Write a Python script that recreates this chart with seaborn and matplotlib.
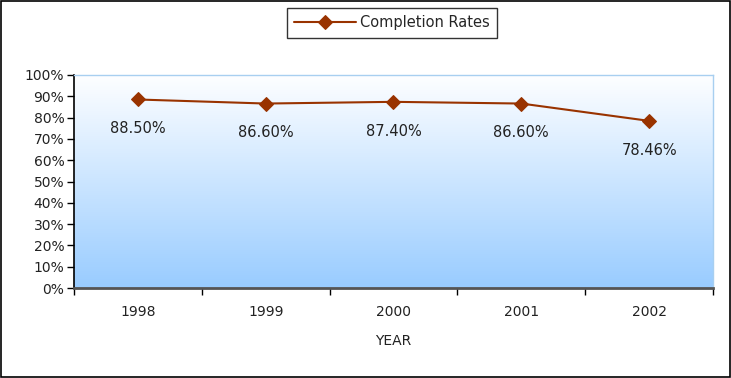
import numpy as np
import pandas as pd
import matplotlib
matplotlib.use("Agg")
import matplotlib.pyplot as plt
import seaborn as sns
from matplotlib.patches import Rectangle

years = ["1998", "1999", "2000", "2001", "2002"]
rates = [88.50, 86.60, 87.40, 86.60, 78.46]
y_ticks = list(range(0, 101, 10))

sns.set_theme(style="white")
plt.rcParams["font.family"] = ["DejaVu Sans"]

df = pd.DataFrame({"pos": np.arange(len(years)), "rate": rates})

fig = plt.figure(figsize=(7.31, 3.78), dpi=100)
ax = fig.add_axes([74 / 731, 90 / 378, 639 / 731, 213 / 378])

# vertical gradient background of the plot area
grad = np.linspace(0, 1, 256).reshape(-1, 1)
top = np.array([0.995, 0.998, 1.0])
bottom = np.array([0.60, 0.80, 1.0])
img = top + (bottom - top) * grad[:, :, None]
ax.imshow(img, extent=[0, 1, 0, 1], transform=ax.transAxes, aspect="auto", zorder=0)

color = "#993300"
sns.lineplot(data=df, x="pos", y="rate", ax=ax, color=color, linewidth=1.5,
             marker="D", markersize=7, markeredgecolor=color,
             label="Completion Rates", zorder=3)

for x, v in zip(df["pos"], df["rate"]):
    ax.annotate(f"{v:.2f}%", (x, v), xytext=(0, -21), textcoords="offset points",
                ha="center", va="center", fontsize=10.5, color="#222222")

ax.set_xlim(-0.5, len(years) - 0.5)
ax.set_ylim(0, 100)
ax.set_yticks(y_ticks)
ax.set_yticklabels([f"{t}%" for t in y_ticks], fontsize=10, color="#222222")
ax.set_xticks(range(len(years)))
ax.set_xticklabels(years, fontsize=10, color="#222222")
ax.set_xticks(np.arange(-0.5, len(years), 1.0), minor=True)
ax.tick_params(axis="x", which="major", length=0, pad=12)
ax.tick_params(axis="x", which="minor", length=5, width=1, color="black", direction="out", bottom=True)
ax.tick_params(axis="y", which="major", length=5, width=1, color="black", direction="out", left=True, pad=2)
ax.set_xlabel("YEAR", fontsize=10, color="#222222", labelpad=11)
ax.set_ylabel("")

for s in ["top", "right"]:
    ax.spines[s].set_color("#a8cff0")
    ax.spines[s].set_linewidth(1)
ax.spines["left"].set_color("black")
ax.spines["left"].set_linewidth(1.2)
ax.spines["bottom"].set_color("#555555")
ax.spines["bottom"].set_linewidth(2)

ax.get_legend().remove()
handles, labels = ax.get_legend_handles_labels()
leg = fig.legend(handles, labels, loc="center", bbox_to_anchor=(392 / 731, 1 - 23 / 378),
                 fontsize=10.5, frameon=True, fancybox=False, handlelength=4.2,
                 borderpad=0.5, handletextpad=0.3)
leg.get_frame().set_edgecolor("black")
leg.get_frame().set_linewidth(1)

fig.patches.append(Rectangle((1 / 731, 1 / 378), 729 / 731, 376 / 378, transform=fig.transFigure,
                             fill=False, edgecolor="black", linewidth=1.2))

fig.savefig("out.png", dpi=100, facecolor="white")
